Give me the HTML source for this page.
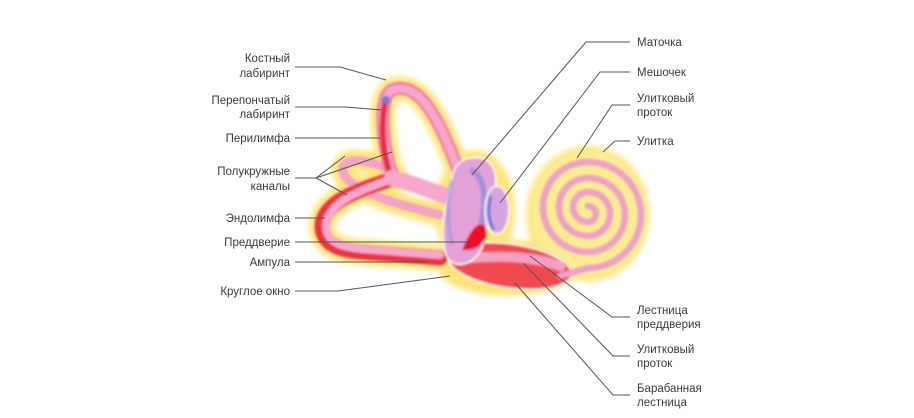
<!DOCTYPE html>
<html><head><meta charset="utf-8"><style>
html,body{margin:0;padding:0;background:#fff;}
svg{display:block}
text{font-family:"Liberation Sans",sans-serif;font-size:11.5px;fill:#3a3a3a}
</style></head><body>
<svg width="914" height="418" viewBox="0 0 914 418" xmlns="http://www.w3.org/2000/svg">
<defs>
<filter id="b" x="-20%" y="-20%" width="140%" height="140%"><feGaussianBlur stdDeviation="3"/></filter>
<filter id="s" x="-20%" y="-20%" width="140%" height="140%"><feGaussianBlur stdDeviation="1"/></filter>
</defs>
<g filter="url(#b)" fill="none" stroke="#fbe57a" stroke-linecap="round">
<path d="M460,175 C440,120 420,80 392,90 C378,98 382,140 392,175" stroke-width="24"/>
<path d="M395,178 C360,190 325,200 322,225 C322,245 340,250 360,252 L440,258" stroke-width="26"/>
<path d="M440,215 C400,205 350,192 343,172 C340,158 362,156 395,172" stroke-width="22"/>
<ellipse cx="588" cy="214" rx="62" ry="68" fill="#fbe88a" stroke="none"/>
<ellipse cx="508" cy="268" rx="70" ry="28" fill="#fbe57a" stroke="none"/>
<ellipse cx="475" cy="210" rx="40" ry="60" fill="#fbe57a" stroke="none"/>
</g>
<ellipse cx="588" cy="213" rx="56" ry="62" fill="#fbec90"/>
<g fill="none" stroke-linecap="round" filter="url(#s)">
<path d="M440,215 C400,205 350,192 343,172 C340,158 362,156 395,172" stroke="#f4a3c6" stroke-width="9"/>
<path d="M460,175 C440,120 420,80 392,90 C378,98 382,140 392,175" stroke="#f07aa8" stroke-width="13"/>
<path d="M460,175 C440,120 420,80 392,90 C378,98 382,140 392,175" stroke="#f6a8cc" stroke-width="8"/>
<path d="M385,102 C380,130 384,160 392,178" stroke="#ee2a3a" stroke-width="6"/>
<path d="M395,178 C360,190 325,200 322,225 C322,245 340,250 360,252 L440,258" stroke="#ee3040" stroke-width="15"/>
<path d="M395,178 C360,190 328,202 326,225 C326,243 342,247 362,249 L440,255" stroke="#f6a8cc" stroke-width="8"/>
<path d="M392,178 C420,185 440,195 460,200" stroke="#f6a8cc" stroke-width="16"/>
</g>
<circle cx="386" cy="100" r="4" fill="#6f7fd8" filter="url(#s)"/>
<g filter="url(#s)">
<ellipse cx="510" cy="266" rx="62" ry="22" transform="rotate(8 510 266)" fill="#f04a50" stroke="#fff" stroke-width="1.5"/>
<path d="M455,260 C480,256 530,253 565,268" stroke="#f5a0c0" stroke-width="10" fill="none"/>
<path d="M446,255 C438,225 448,200 452,178 C454,162 466,156 480,158 C498,161 498,182 493,202 L482,248 C474,266 452,270 446,255Z" fill="#e2a2d8" stroke="#fff" stroke-width="1.5"/>
<path d="M470,170 C486,175 488,205 478,235" stroke="#7a86da" stroke-width="6" fill="none" opacity="0.6"/>
<path d="M452,180 C446,200 448,225 452,245" stroke="#8a90e0" stroke-width="4" fill="none" opacity="0.5"/>
<ellipse cx="497" cy="210" rx="12" ry="24" fill="#d7a4e0" stroke="#fff" stroke-width="1.5"/>
<path d="M491,196 C487,210 489,222 494,230" stroke="#5a78d8" stroke-width="3" fill="none"/>
<path d="M462,250 C470,230 478,220 485,226 C490,238 480,252 462,250Z" fill="#ee1020"/>
</g>
<path d="M560,276 L588,268 A53,53 0 0 0 588,162 A45,45 0 0 0 588,252 A37,37 0 0 0 588,178 A29,29 0 0 0 588,236 A22,22 0 0 0 588,192 A15,15 0 0 0 588,222 A8,8 0 0 0 588,206" fill="none" stroke="#eea0c8" stroke-width="6.5" stroke-linecap="round" filter="url(#s)"/>
<g fill="none" stroke="#555" stroke-width="1">
<path d="M295,67 L340,67 L386,80"/>
<path d="M295,107 L345,107 L382,110"/>
<path d="M295,138 L380,138"/>
<path d="M295,178 L316,178 L345,156 M316,178 L392,152 M316,178 L347,195"/>
<path d="M295,218 L325,218"/>
<path d="M295,242 L470,242"/>
<path d="M295,262 L428,262"/>
<path d="M295,291 L338,291 L450,276"/>
<path d="M630,42 L586,42 L472,175"/>
<path d="M630,72 L600,72 L500,203"/>
<path d="M630,105 L612,105 L577,158"/>
<path d="M630,141 L615,141 L603,152"/>
<path d="M630,317 L612,317 L530,256"/>
<path d="M630,356 L613,356 L523,263"/>
<path d="M630,395 L613,395 L515,283"/>
</g>
<g text-anchor="end">
<text x="290" y="62">Костный</text><text x="290" y="77">лабиринт</text>
<text x="290" y="104">Перепончатый</text><text x="290" y="118">лабиринт</text>
<text x="290" y="142">Перилимфа</text>
<text x="290" y="175">Полукружные</text><text x="290" y="190">каналы</text>
<text x="290" y="222">Эндолимфа</text>
<text x="290" y="246">Преддверие</text>
<text x="290" y="266">Ампула</text>
<text x="290" y="295">Круглое окно</text>
</g>
<g>
<text x="637" y="46">Маточка</text>
<text x="637" y="76">Мешочек</text>
<text x="637" y="102">Улитковый</text><text x="637" y="116">проток</text>
<text x="637" y="145">Улитка</text>
<text x="637" y="314">Лестница</text><text x="637" y="328">преддверия</text>
<text x="637" y="353">Улитковый</text><text x="637" y="367">проток</text>
<text x="637" y="392">Барабанная</text><text x="637" y="406">лестница</text>
</g>
</svg>
</body></html>
